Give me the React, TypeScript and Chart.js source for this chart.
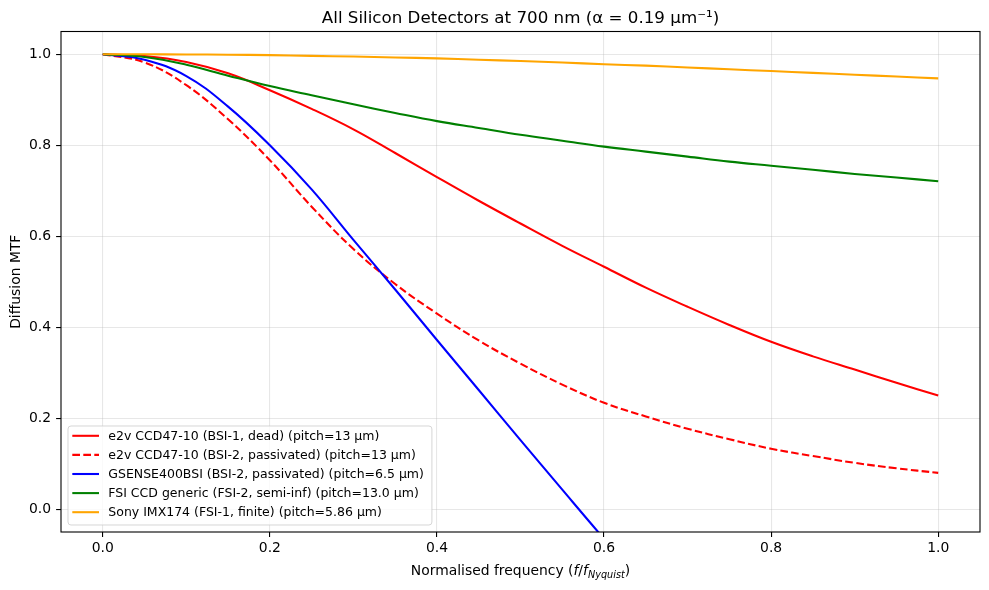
import React, { useEffect, useRef } from "react";
import { Chart, registerables } from "chart.js";

Chart.register(...registerables);

const freq = [0, 0.05, 0.1, 0.15, 0.2, 0.25, 0.3, 0.35, 0.4, 0.45, 0.5, 0.55, 0.6, 0.65, 0.7, 0.75, 0.8, 0.85, 0.9, 0.95, 1.0];
const bsi1Dead = [1, 0.996, 0.983, 0.958, 0.921, 0.88, 0.835, 0.783, 0.73, 0.678, 0.628, 0.579, 0.533, 0.487, 0.445, 0.405, 0.368, 0.336, 0.307, 0.278, 0.25];
const bsi2Pass = [1, 0.982, 0.932, 0.857, 0.767, 0.665, 0.572, 0.495, 0.43, 0.371, 0.32, 0.274, 0.234, 0.204, 0.177, 0.154, 0.133, 0.117, 0.102, 0.09, 0.08];
const gsense = [1, 0.988, 0.952, 0.885, 0.8, 0.703, 0.592, 0.483, 0.372, 0.262, 0.152, 0.043, -0.065, -0.17];
const fsiCcd = [1, 0.994, 0.977, 0.953, 0.93, 0.91, 0.89, 0.871, 0.853, 0.838, 0.823, 0.81, 0.797, 0.786, 0.775, 0.764, 0.755, 0.746, 0.737, 0.729, 0.721];
const sonyImx = [1, 1.0, 0.9995, 0.999, 0.998, 0.9965, 0.995, 0.993, 0.991, 0.988, 0.985, 0.982, 0.978, 0.975, 0.971, 0.967, 0.963, 0.959, 0.955, 0.951, 0.947];

const labels = [
  "e2v CCD47-10 (BSI-1, dead) (pitch=13 μm)",
  "e2v CCD47-10 (BSI-2, passivated) (pitch=13 μm)",
  "GSENSE400BSI (BSI-2, passivated) (pitch=6.5 μm)",
  "FSI CCD generic (FSI-2, semi-inf) (pitch=13.0 μm)",
  "Sony IMX174 (FSI-1, finite) (pitch=5.86 μm)",
];
const colors = ["#ff0000", "#ff0000", "#0000ff", "#008000", "#ffa500"];
const dashes = [[], [7.7, 3.3], [], [], []];
const seriesList = [bsi1Dead, bsi2Pass, gsense, fsiCcd, sonyImx];

const xTicks = [0, 0.2, 0.4, 0.6, 0.8, 1.0];
const yTicks = [0, 0.2, 0.4, 0.6, 0.8, 1.0];

const titleText = "All Silicon Detectors at 700 nm (α = 0.19 μm⁻¹)";
const yLabel = "Diffusion MTF";

const FONT = "'DejaVu Sans', sans-serif";

const overlay = {
  id: "overlay",
  afterDatasetsDraw(chart: any) {
    const { ctx, chartArea: a } = chart;
    ctx.save();
    ctx.strokeStyle = "#000";
    ctx.lineWidth = 1.1;
    ctx.strokeRect(a.left, a.top, a.right - a.left, a.bottom - a.top);
    ctx.restore();
  },
  afterDraw(chart: any) {
    const { ctx, chartArea: a } = chart;
    const cx = (a.left + a.right) / 2;
    ctx.save();
    ctx.fillStyle = "#000";
    ctx.font = `16.7px ${FONT}`;
    ctx.textAlign = "center";
    ctx.textBaseline = "alphabetic";
    ctx.fillText(titleText, cx, 23);
    ctx.save();
    ctx.translate(20, (a.top + a.bottom) / 2);
    ctx.rotate(-Math.PI / 2);
    ctx.font = `13.9px ${FONT}`;
    ctx.textAlign = "center";
    ctx.fillText(yLabel, 0, 0);
    ctx.restore();
    const parts: [string, string, number][] = [
      ["Normalised frequency (", `13.9px ${FONT}`, 0],
      ["f", `italic 13.9px ${FONT}`, 0],
      ["/", `13.9px ${FONT}`, 0],
      ["f", `italic 13.9px ${FONT}`, 0],
      ["Nyquist", `italic 9.7px ${FONT}`, 3],
      [")", `13.9px ${FONT}`, 0],
    ];
    let total = 0;
    const widths = parts.map(([t, f]) => {
      ctx.font = f;
      const w = ctx.measureText(t).width;
      total += w;
      return w;
    });
    let x = cx - total / 2;
    ctx.textAlign = "left";
    const base = 575;
    parts.forEach(([t, f, dy], i) => {
      ctx.font = f;
      ctx.fillText(t, x, base + dy);
      x += widths[i];
    });
    ctx.font = `12.5px ${FONT}`;
    let maxW = 0;
    labels.forEach((l) => (maxW = Math.max(maxW, ctx.measureText(l).width)));
    const left = 68;
    const top = 426;
    const rowH = 19.1;
    const textX = 108.3;
    const right = textX + maxW + 8;
    const bottom = 525;
    const r = 3;
    ctx.beginPath();
    ctx.moveTo(left + r, top);
    ctx.lineTo(right - r, top);
    ctx.quadraticCurveTo(right, top, right, top + r);
    ctx.lineTo(right, bottom - r);
    ctx.quadraticCurveTo(right, bottom, right - r, bottom);
    ctx.lineTo(left + r, bottom);
    ctx.quadraticCurveTo(left, bottom, left, bottom - r);
    ctx.lineTo(left, top + r);
    ctx.quadraticCurveTo(left, top, left + r, top);
    ctx.closePath();
    ctx.fillStyle = "rgba(255,255,255,0.8)";
    ctx.fill();
    ctx.strokeStyle = "rgba(204,204,204,0.8)";
    ctx.lineWidth = 1;
    ctx.stroke();
    labels.forEach((l, i) => {
      const y = 435.8 + i * rowH;
      ctx.beginPath();
      ctx.setLineDash(dashes[i]);
      ctx.strokeStyle = colors[i];
      ctx.lineWidth = 2.08;
      ctx.moveTo(72.3, y);
      ctx.lineTo(99, y);
      ctx.stroke();
      ctx.setLineDash([]);
      ctx.fillStyle = "#000";
      ctx.textBaseline = "middle";
      ctx.fillText(l, textX, y + 0.5);
    });
    ctx.restore();
  },
};

export default function App() {
  const ref = useRef<HTMLCanvasElement | null>(null);
  useEffect(() => {
    if (!ref.current) return;
    const datasets = seriesList.map((vals, i) => ({
      label: labels[i],
      data: vals.map((v, j) => ({ x: freq[j], y: v })),
      borderColor: colors[i],
      backgroundColor: colors[i],
      borderWidth: 2.08,
      borderDash: dashes[i],
      pointRadius: 0,
      fill: false,
      tension: 0.4,
      clip: 0,
      order: 5 - i,
    }));
    const gridCommon = {
      color: "rgba(176,176,176,0.3)",
      lineWidth: 1.1,
      drawTicks: true,
      tickLength: 4.9,
      tickColor: "#000",
      tickWidth: 1.1,
    };
    const chart = new Chart(ref.current, {
      type: "line",
      data: { datasets },
      plugins: [overlay],
      options: {
        animation: false,
        responsive: false,
        events: [],
        layout: { padding: { left: 0, top: 31.5, right: 9, bottom: 0 } },
        plugins: { legend: { display: false }, tooltip: { enabled: false }, title: { display: false } },
        scales: {
          x: {
            type: "linear",
            min: -0.05,
            max: 1.05,
            afterBuildTicks: (s: any) => {
              s.ticks = xTicks.map((v) => ({ value: v }));
            },
            afterFit: (s: any) => {
              s.height = 58;
            },
            grid: gridCommon,
            border: { display: false },
            ticks: {
              color: "#000",
              font: { family: FONT, size: 13.9 },
              padding: 3,
              maxRotation: 0,
              callback: (v: any) => Number(v).toFixed(1),
            },
          },
          y: {
            type: "linear",
            min: -0.05,
            max: 1.05,
            afterBuildTicks: (s: any) => {
              s.ticks = yTicks.map((v) => ({ value: v }));
            },
            afterFit: (s: any) => {
              s.width = 61;
            },
            grid: gridCommon,
            border: { display: false },
            ticks: {
              color: "#000",
              font: { family: FONT, size: 13.9 },
              padding: 5,
              callback: (v: any) => Number(v).toFixed(1),
            },
          },
        },
      },
    } as any);
    return () => chart.destroy();
  }, []);
  return (
    <div style={{ position: "fixed", left: 0, top: 0, width: 989, height: 590, background: "#fff" }}>
      <canvas ref={ref} width={989} height={590} style={{ display: "block" }} />
    </div>
  );
}
